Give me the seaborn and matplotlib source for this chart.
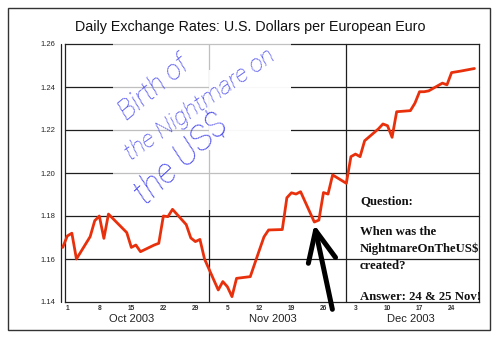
import matplotlib
matplotlib.use("Agg")
import matplotlib.pyplot as plt
import matplotlib.transforms as mtransforms
from matplotlib.patches import Rectangle
from matplotlib.lines import Line2D
import pandas as pd
import seaborn as sns

# ---------------- data ----------------
dates = ["2003-09-30", "2003-10-01", "2003-10-02", "2003-10-03", "2003-10-06",
         "2003-10-07", "2003-10-08", "2003-10-09", "2003-10-10", "2003-10-14",
         "2003-10-15", "2003-10-16", "2003-10-17", "2003-10-20", "2003-10-21",
         "2003-10-22", "2003-10-23", "2003-10-24", "2003-10-27", "2003-10-28",
         "2003-10-29", "2003-10-30", "2003-10-31", "2003-11-03", "2003-11-04",
         "2003-11-05", "2003-11-06", "2003-11-07", "2003-11-10", "2003-11-12",
         "2003-11-13", "2003-11-14", "2003-11-17", "2003-11-18", "2003-11-19",
         "2003-11-20", "2003-11-21", "2003-11-24", "2003-11-25", "2003-11-26",
         "2003-11-27", "2003-11-28", "2003-12-01", "2003-12-02", "2003-12-03",
         "2003-12-04", "2003-12-05", "2003-12-08", "2003-12-09", "2003-12-10",
         "2003-12-11", "2003-12-12", "2003-12-15", "2003-12-16", "2003-12-17",
         "2003-12-18", "2003-12-19", "2003-12-22", "2003-12-23", "2003-12-24",
         "2003-12-26", "2003-12-29"]
rates = [1.1654, 1.1707, 1.1720, 1.1600, 1.1704,
         1.1778, 1.1800, 1.1696, 1.1809, 1.1723,
         1.1654, 1.1665, 1.1634, 1.1665, 1.1673,
         1.1800, 1.1797, 1.1831, 1.1760, 1.1698,
         1.1681, 1.1691, 1.1600, 1.1456, 1.1495,
         1.1471, 1.1425, 1.1510, 1.1518, 1.1642,
         1.1703, 1.1735, 1.1737, 1.1885, 1.1908,
         1.1902, 1.1913, 1.1772, 1.1781, 1.1909,
         1.1902, 1.1991, 1.1952, 1.2076, 1.2088,
         1.2076, 1.2150, 1.2205, 1.2228, 1.2220,
         1.2166, 1.2285, 1.2290, 1.2325, 1.2378,
         1.2378, 1.2382, 1.2418, 1.2410, 1.2467,
         1.2474, 1.2486]

tick_dates = ["2003-10-01", "2003-10-08", "2003-10-15", "2003-10-22", "2003-10-29",
              "2003-11-05", "2003-11-12", "2003-11-19", "2003-11-26",
              "2003-12-03", "2003-12-10", "2003-12-17", "2003-12-24"]
tick_labels = ["1", "8", "15", "22", "29", "5", "12", "19", "26", "3", "10", "17", "24"]
month_labels = ["Oct 2003", "Nov 2003", "Dec 2003"]
month_centers = ["2003-10-15", "2003-11-15", "2003-12-15"]
month_bounds = ["2003-11-01", "2003-12-01"]
y_ticks = [1.14, 1.16, 1.18, 1.20, 1.22, 1.24, 1.26]
y_labels = ["1.14", "1.16", "1.18", "1.20", "1.22", "1.24", "1.26"]
x_range = ["2003-09-30 12:00", "2003-12-30 00:00"]

title = "Daily Exchange Rates: U.S. Dollars per European Euro"
hand_lines = ["Birth of", "the Nightmare on", "the US$"]
note_lines = ["Question:", "When was the", "NightmareOnTheUS$", "created?",
              "Answer: 24 & 25 Nov!"]
arrow_date = "2003-11-24"

df = pd.DataFrame({"date": pd.to_datetime(dates), "rate": rates})

# ---------------- figure ----------------
sns.set_style("white")
plt.rcParams["font.family"] = ["Liberation Sans", "DejaVu Sans"]

W, H = 500, 339
fig = plt.figure(figsize=(W / 100, H / 100), dpi=100)
L, R, T, B = 65, 479, 44, 302
ax = fig.add_axes([L / W, 1 - B / H, (R - L) / W, (B - T) / H])


def ax_frac(px, py):
    return (px - L) / (R - L), (B - py) / (B - T)


# grid (horizontal at each tick, vertical at month starts)
ax.set_ylim(y_ticks[0], y_ticks[-1])
ax.set_xlim(pd.to_datetime(x_range[0]), pd.to_datetime(x_range[1]))
for yv in y_ticks[1:-1]:
    ax.axhline(yv, color="#1e1e1e", lw=0.9, zorder=1)
for mb in month_bounds:
    ax.axvline(pd.to_datetime(mb), color="#1e1e1e", lw=0.9, zorder=1)

# whitened annotation area
x0, y0 = ax_frac(113, 176)
x1, _ = ax_frac(291, 40)
ax.add_patch(Rectangle((x0, y0), x1 - x0, 1.02 - y0, transform=ax.transAxes,
                       facecolor="white", edgecolor="none", alpha=0.72,
                       zorder=3, clip_on=False))
sx0, sy0 = ax_frac(200, 210)
sx1, sy1 = ax_frac(213, 176)
ax.add_patch(Rectangle((sx0, sy0), sx1 - sx0, sy1 - sy0, transform=ax.transAxes,
                       facecolor="white", edgecolor="none", alpha=0.72,
                       zorder=3, clip_on=False))
wx0, wy0 = ax_frac(209, 150)
wx1, wy1 = ax_frac(291, 70)
ax.add_patch(Rectangle((wx0, wy0), wx1 - wx0, wy1 - wy0, transform=ax.transAxes,
                       facecolor="white", edgecolor="none", alpha=0.9,
                       zorder=3, clip_on=False))

# the data line
sns.lineplot(data=df, x="date", y="rate", ax=ax, color="#e8310c", lw=2.0,
             zorder=4)
for ln in ax.lines:
    ln.set_clip_on(False)

# axes styling
for s in ["top", "right", "bottom", "left"]:
    ax.spines[s].set_color("#222222")
    ax.spines[s].set_linewidth(0.9)
    ax.spines[s].set_zorder(2.5)
ax.set_yticks(y_ticks)
ax.set_yticklabels(y_labels, fontsize=5.5)
ax.tick_params(axis="y", length=3, width=0.9, color="#222222", pad=4.2)
ax.set_xticks(pd.to_datetime(tick_dates))
ax.set_xticklabels(tick_labels, fontsize=4.8, fontweight="bold", color="#333333")
ax.tick_params(axis="x", length=0, pad=2.5)
ax.set_xlabel("")
ax.set_ylabel("")

# second (outer) left frame line
ox, _ = ax_frac(61, 0)
ax.add_line(Line2D([ox, ox], [0, 1], transform=ax.transAxes, color="#222222",
                   lw=0.9, clip_on=False))

# month labels
btr = mtransforms.blended_transform_factory(ax.transData, ax.transAxes)
_, my = ax_frac(0, 319)
for lab, c in zip(month_labels, month_centers):
    ax.text(pd.to_datetime(c), my, lab, transform=btr, ha="center",
            va="center", fontsize=8, color="#222222")

# title
fig.text(0.5, 1 - 27 / H, title, ha="center", va="center", fontsize=10.3,
         color="#111111")

# handwriting
hand_specs = [((127, 121), 40, 20), ((131, 161), 35, 17.5), ((146, 205), 43, 25)]
for txt, ((hx, hy), rot, fs) in zip(hand_lines, hand_specs):
    fig.text(hx / W, 1 - hy / H, txt, rotation=rot, rotation_mode="anchor",
             ha="left", va="baseline", fontsize=fs, color="#4a4af0",
             family=["Roboto", "DejaVu Sans"], fontweight="light",
             style="italic", zorder=6, parse_math=False)

# question / answer text
note_y = [201, 232, 249, 266, 297]
for txt, ny in zip(note_lines, note_y):
    fig.text(360 / W, 1 - ny / H, txt, ha="left", va="center", fontsize=9.2,
             fontweight="bold", family=["Liberation Serif", "DejaVu Serif"],
             color="#111111", parse_math=False, zorder=6)

# the big black arrow pointing at 24 Nov
ai = dates.index(arrow_date)
ax.annotate("", xy=(pd.to_datetime(dates[ai]), rates[ai] - 0.0012),
            xytext=(13, -61), textcoords="offset points",
            arrowprops=dict(arrowstyle="->,head_length=2.2,head_width=1.0",
                            mutation_scale=10, lw=3.6, color="black",
                            shrinkA=0, shrinkB=0),
            annotation_clip=False, zorder=7)

# outer border
fig.patches.append(Rectangle((8 / W, 1 - 330 / H), (490 - 8) / W, (330 - 8) / H,
                             transform=fig.transFigure, fill=False,
                             edgecolor="#333333", lw=1.0))

fig.savefig("out.png", dpi=100)
